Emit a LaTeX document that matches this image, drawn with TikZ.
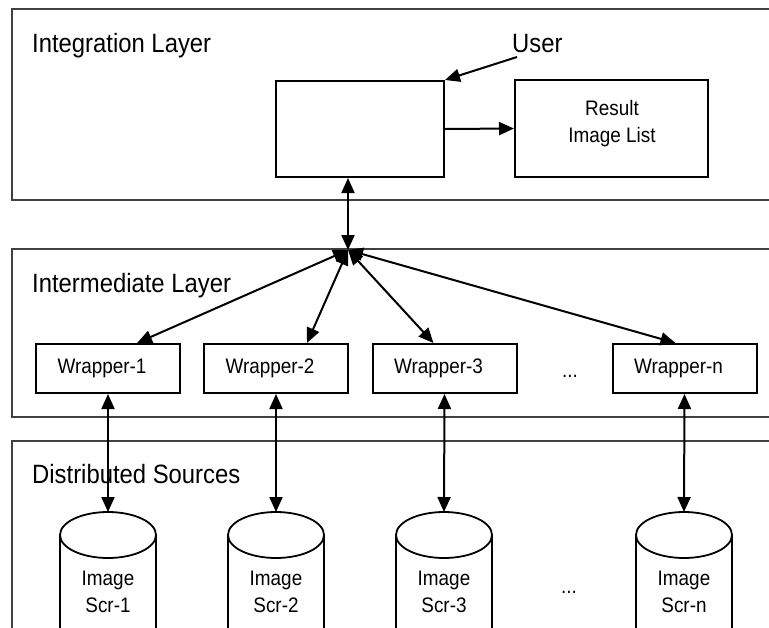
\documentclass[tikz,border=0pt]{standalone}
\usepackage{fontspec}
\setmainfont[FakeStretch=0.9]{Liberation Sans}
\usetikzlibrary{arrows.meta,calc}

\begin{document}
\begin{tikzpicture}[x=1pt,y=-1pt,
  layer/.style={draw=black!75, line width=1.4pt},
  shapebox/.style={draw, line width=2pt, rectangle, inner sep=0pt},
  layertitle/.style={font=\fontsize{26.5pt}{30pt}\selectfont, anchor=base west, inner sep=0pt},
  txt/.style={font=\fontsize{21pt}{27pt}\selectfont, align=center, inner sep=0pt},
  wrapbox/.style={shapebox, minimum width=144pt, minimum height=49pt,
    font=\fontsize{21pt}{27pt}\selectfont},
  arr/.style={line width=2pt, -{Triangle[length=15pt,width=13pt]}},
  darr/.style={line width=2pt, {Triangle[length=15pt,width=13pt]}-{Triangle[length=15pt,width=13pt]}},
]
\useasboundingbox (0,0) rectangle (769,627);
\clip (0,0) rectangle (769,627);

% the three layers, running off the right and bottom edges
\draw[layer] (12,9) rectangle (800,200);
\draw[layer] (12,249) rectangle (800,417);
\draw[layer] (12,441) rectangle (800,700);

\node[layertitle] (t1) at (32,52) {Integration Layer};
\node[layertitle] (t2) at (32,292) {Intermediate Layer};
\node[layertitle] (t3) at (32,483) {Distributed Sources};

% integration layer
\node[layertitle] (user) at (512,52) {User};
\node[shapebox, minimum width=168pt, minimum height=96pt] (main) at (360,129) {};
\node[shapebox, minimum width=193pt, minimum height=97pt] (result) at (611.5,128.5) {};
\node[txt, anchor=base] (restext) at (612,142) {Result\\Image List};

\coordinate (ustart) at (517,57);
\draw[arr] (ustart) -- (main.north east);
\draw[arr] (main.east) -- (result.west);

\coordinate (hub) at (348,250);
\draw[darr] ($(main.south)+(-12,0)$) -- (hub);

% wrappers
\node[wrapbox] (w1) at (108,368.5) {Wrapper-1\hspace*{12pt}};
\node[wrapbox] (w2) at (276,368.5) {Wrapper-2\hspace*{12pt}};
\node[wrapbox] (w3) at (444.5,368.5) {Wrapper-3\hspace*{12pt}};
\node[wrapbox] (wn) at (684.5,368.5) {Wrapper-n\hspace*{12pt}};
\node[txt, anchor=base] (dots1) at (570,377) {...};

\draw[darr] (hub) -- ($(w1.north)+(29,0)$);
\draw[darr] (hub) -- ($(w2.north)+(31,0)$);
\draw[darr] (hub) -- ($(w3.north)+(-11,0)$);
\draw[darr] (hub) -- ($(wn.north)+(-9,0)$);

% image sources
\foreach \cx/\k in {108/1, 276/2, 444/3, 684/n} {
  \draw[line width=1.8pt] (\cx-48,640) -- (\cx-48,535);
  \draw[line width=1.8pt] (\cx+48,640) -- (\cx+48,535);
  \draw[line width=1.8pt] (\cx,535) ellipse [x radius=48pt, y radius=23pt];
  \coordinate (s\k) at (\cx,512);
  \node[txt, anchor=base] (s\k-text) at (\cx,612) {Image\\Scr-\k};
  \draw[darr] (w\k.south) -- (s\k);
}
\node[txt, anchor=base] (dots2) at (569,593) {...};
\end{tikzpicture}
\end{document}
